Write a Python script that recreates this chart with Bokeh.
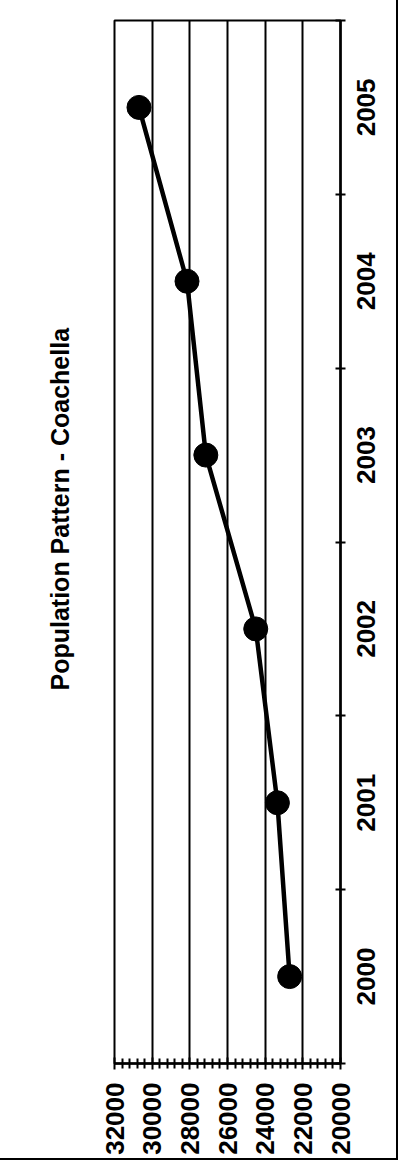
import math
from bokeh.plotting import figure
from bokeh.models import Range1d, FixedTicker
from bokeh.embed import file_html
from bokeh.resources import INLINE

# data
years = [2000, 2001, 2002, 2003, 2004, 2005]
population = [22700, 23350, 24500, 27150, 28150, 30700]
value_ticks = [20000, 22000, 24000, 26000, 28000, 30000, 32000]
title_text = "Population Pattern - Coachella"

FONT = "Liberation Sans"
LABEL_PX = 26
W, H = 396, 1158
B_LEFT, B_RIGHT, B_TOP, B_BOTTOM = 114, 56, 20, 95

p = figure(width=W, height=H, output_backend="svg", toolbar_location=None,
           x_range=Range1d(32000, 20000), y_range=Range1d(1999.5, 2005.5),
           y_axis_location="right", title_location="left",
           min_border_left=B_LEFT, min_border_right=B_RIGHT,
           min_border_top=B_TOP, min_border_bottom=B_BOTTOM)
p.styles = {"outline": "2px solid black"}

p.title.text = title_text
p.title.align = "left"
p.title.offset = 373
p.title.standoff = 82
p.title.text_font = FONT
p.title.text_font_size = "25px"
p.title.text_font_style = "bold"
p.title.text_color = "black"

p.outline_line_color = "black"
p.outline_line_width = 2
p.background_fill_color = "white"
p.border_fill_color = "white"

# value axis (bottom)
xa = p.xaxis[0]
minor = []
for i in range(len(value_ticks) - 1):
    for k in range(1, 5):
        minor.append(value_ticks[i] + k * (value_ticks[i + 1] - value_ticks[i]) / 5)
xa.ticker = FixedTicker(ticks=value_ticks, minor_ticks=minor)
xa.major_label_orientation = math.pi / 2
xa.major_label_text_font = FONT
xa.major_label_text_font_size = f"{LABEL_PX}px"
xa.major_label_text_font_style = "bold"
xa.major_label_text_color = "black"
xa.axis_line_width = 2.5
xa.axis_line_color = "black"
xa.major_tick_line_width = 2
xa.major_tick_in = 6
xa.major_tick_out = 6
xa.minor_tick_line_width = 2
xa.minor_tick_in = 5
xa.minor_tick_out = 5
xa.major_label_standoff = 13

# year axis (right): rotated labels are start-anchored, so centre them on the year
frame_h = H - B_TOP - B_BOTTOM
label_len_px = 0.556 * 4 * LABEL_PX
shift = (label_len_px / 2) / (frame_h / len(years))
ya = p.right[0]
ya.ticker = FixedTicker(ticks=[y - shift for y in years],
                        minor_ticks=[y - 0.5 for y in years] + [years[-1] + 0.5])
ya.major_label_overrides = {y - shift: str(y) for y in years}
ya.major_label_orientation = math.pi / 2
ya.major_label_text_font = FONT
ya.major_label_text_font_size = f"{LABEL_PX}px"
ya.major_label_text_font_style = "bold"
ya.major_label_text_color = "black"
ya.axis_line_width = 2.5
ya.axis_line_color = "black"
ya.major_tick_line_color = None
ya.major_tick_in = 0
ya.major_tick_out = 0
ya.minor_tick_line_width = 2
ya.minor_tick_in = 5
ya.minor_tick_out = 5
ya.major_label_standoff = 21

p.xgrid.grid_line_color = "black"
p.xgrid.grid_line_width = 2
p.xgrid.ticker = FixedTicker(ticks=value_ticks)
p.ygrid.grid_line_color = None

p.line(population, years, line_color="black", line_width=4.5)
p.scatter(population, years, size=24, fill_color="black", line_color="black")

open("out.html", "w").write(file_html(p, INLINE))
